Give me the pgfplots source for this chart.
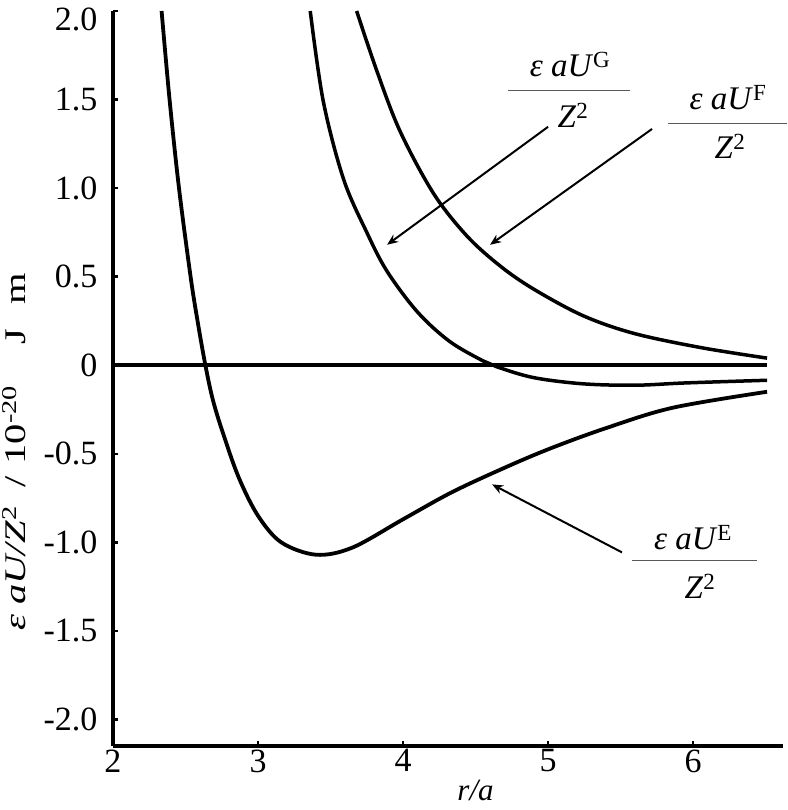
\documentclass[border=0pt]{standalone}
\usepackage{fontspec}
\setmainfont{Liberation Serif}
\usepackage{graphicx}
\usepackage{pgfplots}
\pgfplotsset{compat=1.18}
\usetikzlibrary{arrows.meta}

\begin{document}
\begin{tikzpicture}
\begin{axis}[
  scale only axis, width=670pt, height=735pt,
  xmin=2, xmax=6.62, ymin=-2.15, ymax=2.0,
  axis x line=bottom, axis y line=left,
  axis line style={line width=3.5pt, -},
  xtick={2,3,4,5,6}, xticklabels={2,3,4,5,6},
  ytick={-2,-1.5,-1,-0.5,0,0.5,1,1.5,2},
  yticklabels={-2.0,-1.5,-1.0,-0.5,0,0.5,1.0,1.5,\raisebox{-8pt}[\height][\depth]{2.0}},
  tick align=inside, major tick length=5pt,
  tick style={line width=2.5pt, black},
  ticklabel style={font=\fontsize{34}{40}\selectfont},
  yticklabel style={xshift=-12pt},
  clip=false,
]
% zero line
\addplot[line width=4pt] coordinates {(2,0) (6.51,0)};
% E curve
\addplot[line width=3.8pt, smooth, tension=0.55] coordinates {
(2.335,2.0) (2.39,1.5) (2.455,1.0) (2.535,0.5) (2.583,0.25) (2.637,0.0)
(2.69,-0.2) (2.765,-0.4) (2.87,-0.64) (3.0,-0.85) (3.16,-1.0) (3.40,-1.07)
(3.65,-1.03) (4.0,-0.87) (4.33,-0.72) (4.67,-0.59) (5.0,-0.475)
(5.4,-0.355) (5.86,-0.24) (6.51,-0.15)};
% G curve
\addplot[line width=3.5pt, smooth, tension=0.55] coordinates {
(3.36,2.0) (3.45,1.49) (3.59,1.05) (3.75,0.75) (3.89,0.53) (4.10,0.30)
(4.32,0.135) (4.55,0.025) (4.65,-0.01) (4.90,-0.07) (5.24,-0.105)
(5.6,-0.113) (5.95,-0.10) (6.51,-0.085)};
% F curve
\addplot[line width=3.5pt, smooth, tension=0.55] coordinates {
(3.68,2.0) (3.82,1.66) (3.98,1.32) (4.21,0.97) (4.44,0.73) (4.67,0.56)
(4.90,0.43) (5.24,0.28) (5.59,0.18) (6.05,0.10) (6.51,0.04)};

% annotations
\begin{scope}[font=\fontsize{33}{40}\selectfont]
\node at (axis cs:5.152,1.695) {\textit{ε aU}\textsuperscript{G}};
\draw[line width=1pt, black!65] (axis cs:4.724,1.549) -- (axis cs:5.566,1.549);
\node at (axis cs:5.172,1.413) {\textit{Z}\textsuperscript{2}};
\draw[line width=2pt, -{Stealth[length=11pt,width=9pt]}] (axis cs:5.0,1.346) -- (axis cs:3.89,0.68);

\node at (axis cs:6.241,1.509) {\textit{ε aU}\textsuperscript{F}};
\draw[line width=1pt, black!65] (axis cs:5.828,1.363) -- (axis cs:6.648,1.363);
\node at (axis cs:6.255,1.233) {\textit{Z}\textsuperscript{2}};
\draw[line width=2pt, -{Stealth[length=11pt,width=9pt]}] (axis cs:5.717,1.334) -- (axis cs:4.60,0.68);

\node at (axis cs:6.0,-0.972) {\textit{ε aU}\textsuperscript{E}};
\draw[line width=1pt, black!65] (axis cs:5.579,-1.102) -- (axis cs:6.441,-1.102);
\node at (axis cs:6.048,-1.249) {\textit{Z}\textsuperscript{2}};
\draw[line width=2pt, -{Stealth[length=11pt,width=9pt]}] (axis cs:5.51,-1.057) -- (axis cs:4.614,-0.673);
\end{scope}
\node[anchor=north, font=\fontsize{31}{36}\selectfont] at (axis cs:4.5,-2.32) {\textit{r/a}};
\node[rotate=90, font=\fontsize{30}{36}\selectfont] at (axis cs:1.32,-0.49)
  {\scalebox{1.35}[1]{\textit{ε aU/Z}\textsuperscript{2}\hspace{0.45em}/\hspace{0.3em}10\textsuperscript{-20}\hspace{1.0em}J\hspace{0.6em}m}};
\end{axis}
\pgfresetboundingbox
\useasboundingbox (-113pt,-64pt) rectangle (674pt,746pt);
\end{tikzpicture}
\end{document}
